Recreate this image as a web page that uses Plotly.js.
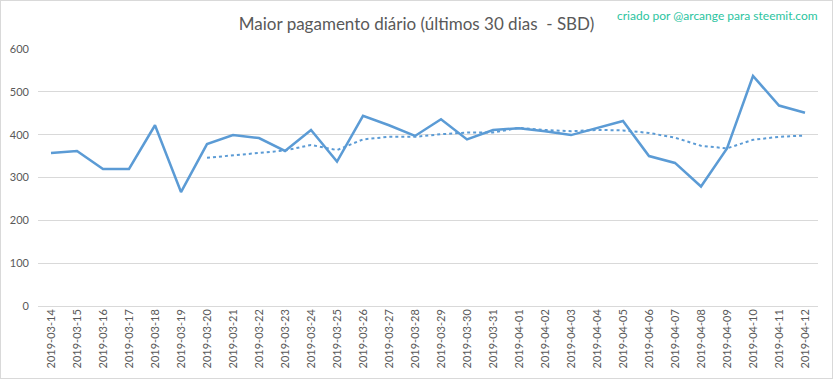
<!DOCTYPE html>
<html>
<head>
<meta charset="utf-8">
<script src="https://cdn.plot.ly/plotly-3.0.1.min.js"></script>
<style>
  html, body { margin: 0; padding: 0; background: #fff; }
  #chart { width: 831px; height: 377px; border: 1px solid #d9d9d9; }
</style>
</head>
<body>
<div id="chart"></div>
<script>
var dates = ["2019-03-14","2019-03-15","2019-03-16","2019-03-17","2019-03-18","2019-03-19","2019-03-20","2019-03-21","2019-03-22","2019-03-23","2019-03-24","2019-03-25","2019-03-26","2019-03-27","2019-03-28","2019-03-29","2019-03-30","2019-03-31","2019-04-01","2019-04-02","2019-04-03","2019-04-04","2019-04-05","2019-04-06","2019-04-07","2019-04-08","2019-04-09","2019-04-10","2019-04-11","2019-04-12"];
var maxPayout = [357,362,320,320,422,266,378,399,392,362,411,337,444,422,397,436,389,411,415,408,399,416,432,350,334,279,368,537,468,451];
var trend = [null,null,null,null,null,null,346,352,357,363,376,364,389,395,395,401,405,405,416,411,408,411,410,404,393,374,368,388,395,398];
var yTicks = [0,100,200,300,400,500,600];

var lineColor = "#5b9bd5";
var textColor = "#595959";

var data = [
  {x: dates, y: maxPayout, type: "scatter", mode: "lines",
   line: {color: lineColor, width: 2.5}, hoverinfo: "x+y"},
  {x: dates, y: trend, type: "scatter", mode: "lines", connectgaps: false,
   line: {color: lineColor, width: 2, dash: "dot"}, hoverinfo: "x+y"}
];

var layout = {
  width: 831, height: 377,
  margin: {l: 37, r: 14, t: 48, b: 72},
  paper_bgcolor: "#ffffff", plot_bgcolor: "#ffffff",
  showlegend: false,
  font: {family: "Lato, 'Liberation Sans', sans-serif", color: textColor, size: 11},
  title: {text: "Maior pagamento diário (últimos 30 dias  - SBD)",
          font: {family: "Lato, 'Liberation Sans', sans-serif", size: 17, color: textColor},
          xref: "container", x: 0.5, xanchor: "center",
          yref: "container", y: 1 - 23/377, yanchor: "middle"},
  xaxis: {type: "category", tickangle: -90, showgrid: false, zeroline: false,
          showline: false, ticks: "", tickfont: {size: 11, color: textColor},
          range: [-0.5, 29.5], fixedrange: true},
  yaxis: {range: [0, 600], tickvals: yTicks, showgrid: true, gridcolor: "#d9d9d9",
          gridwidth: 1, zeroline: true, zerolinecolor: "#d9d9d9", zerolinewidth: 1,
          showline: false, ticks: "", ticklabelstandoff: 8,
          tickfont: {size: 11, color: textColor}, fixedrange: true},
  annotations: [{text: "criado por @arcange para steemit.com", xref: "paper", yref: "paper",
                 x: 1.003, xanchor: "right", y: 1.132, yanchor: "middle", showarrow: false,
                 font: {family: "Lato, 'Liberation Sans', sans-serif", size: 12, color: "#2bc4a0"}}]
};

Plotly.newPlot("chart", data, layout, {displayModeBar: false, staticPlot: true});
</script>
</body>
</html>
